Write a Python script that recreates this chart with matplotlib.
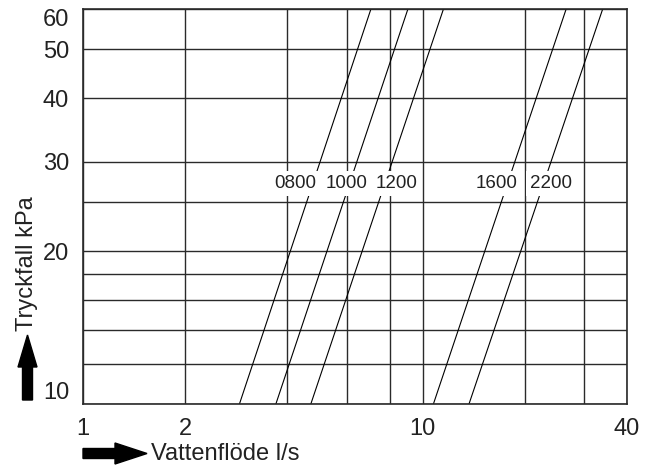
import numpy as np
import matplotlib
matplotlib.use("Agg")
import matplotlib.pyplot as plt
from matplotlib.patches import FancyArrow
from matplotlib.transforms import IdentityTransform

plt.rcParams['font.family'] = ['Liberation Sans', 'DejaVu Sans']

# pressure drop range of the chart (kPa)
p_lo, p_hi = 10, 60

# valve sizes and flow (l/s) where each line hits 10 kPa and 60 kPa
sizes = ["0800", "1000", "1200", "1600", "2200"]
flow_at_10 = [2.89, 3.70, 4.69, 10.77, 13.71]
flow_at_60 = [7.05, 9.06, 11.53, 26.5, 33.95]
label_x = [4.21, 5.97, 8.36, 16.54, 23.9]
label_p = 27.2

x_grid = [1, 2, 4, 6, 8, 10, 20, 30, 40]
x_ticks = [1, 2, 10, 40]
y_grid = [10, 12, 14, 16, 18, 20, 25, 30, 40, 50, 60]
y_ticks = [10, 20, 30, 40, 50, 60]

fig = plt.figure(figsize=(6.51, 4.68), dpi=100)
ax = fig.add_axes([0.1275, 0.137, 0.8355, 0.844])
ax.set_xscale('log')
ax.set_yscale('log')
ax.set_xlim(1, 40)
ax.set_ylim(p_lo, p_hi)

for gx in x_grid:
    ax.axvline(gx, color='#2a2a2a', lw=1.0, zorder=1)
for gy in y_grid:
    ax.axhline(gy, color='#2a2a2a', lw=1.0, zorder=1)

for name, q1, q2, lx in zip(sizes, flow_at_10, flow_at_60, label_x):
    ax.plot([q1, q2], [p_lo, p_hi], color='black', lw=0.8, zorder=2)
    ax.text(lx, label_p, name, fontsize=13.5, ha='center', va='center', zorder=3,
            color='#222222', bbox=dict(facecolor='white', edgecolor='none', pad=3))

ax.xaxis.set_major_locator(matplotlib.ticker.FixedLocator(x_ticks))
ax.xaxis.set_minor_locator(matplotlib.ticker.NullLocator())
ax.yaxis.set_major_locator(matplotlib.ticker.FixedLocator(y_ticks))
ax.yaxis.set_minor_locator(matplotlib.ticker.NullLocator())
ax.xaxis.set_major_formatter(matplotlib.ticker.FixedFormatter([str(v) for v in x_ticks]))
ax.yaxis.set_major_formatter(matplotlib.ticker.FixedFormatter([str(v) for v in y_ticks]))
ax.tick_params(length=0, labelsize=17, pad=10, colors='#222222')

for sp in ax.spines.values():
    sp.set_color('#2a2a2a')
    sp.set_linewidth(1.2)

fig.canvas.draw()
ylabels = ax.get_yticklabels()
ylabels[0].set_verticalalignment('bottom')
ylabels[-1].set_verticalalignment('top')

# axis arrows, in pixels
fig.add_artist(FancyArrow(83, 14.5, 64, 0, width=10, head_width=21, head_length=32,
                          length_includes_head=True, color='black', transform=IdentityTransform()))
fig.add_artist(FancyArrow(27.5, 68, 0, 65, width=10, head_width=19, head_length=32,
                          length_includes_head=True, color='black', transform=IdentityTransform()))

fig.text(151 / 651, 1 - 454 / 468, "Vattenflöde l/s", fontsize=17, ha='left', va='center', color='#222222')
fig.text(27.5 / 651, 1 - 331 / 468, "Tryckfall kPa", fontsize=17, rotation=90, ha='center', va='bottom', color='#222222')

fig.savefig("out.png", dpi=100)
